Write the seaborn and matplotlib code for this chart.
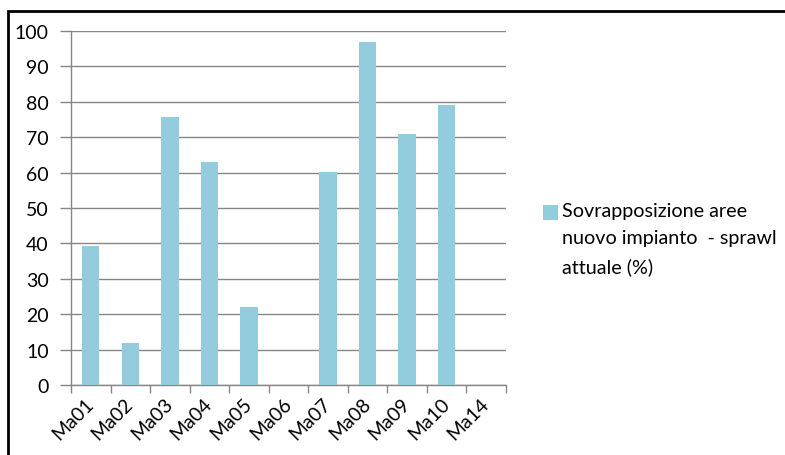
import matplotlib
matplotlib.use("Agg")
import matplotlib.pyplot as plt
from matplotlib.patches import Rectangle
from matplotlib.ticker import FixedLocator
import seaborn as sns
import pandas as pd
import numpy as np

categories = ["Ma01", "Ma02", "Ma03", "Ma04", "Ma05", "Ma06",
              "Ma07", "Ma08", "Ma09", "Ma10", "Ma14"]
overlap_pct = [39.3, 11.9, 75.7, 63.1, 21.9, 0.0,
               60.2, 97.0, 70.9, 79.1, 0.0]
series_label = "Sovrapposizione aree\nnuovo impianto  - sprawl\nattuale (%)"
y_ticks = [0, 10, 20, 30, 40, 50, 60, 70, 80, 90, 100]

bar_color = "#93CDDD"
grid_color = "#868686"

plt.rcParams["font.family"] = ["Lato", "DejaVu Sans"]

df = pd.DataFrame({"cat": categories, "val": overlap_pct})

fig = plt.figure(figsize=(7.85, 4.56), dpi=100)
W, H = 785, 456
ax = fig.add_axes([71 / W, 1 - 386 / H, (506 - 71) / W, (386 - 32) / H])

sns.barplot(data=df, x="cat", y="val", color=bar_color, saturation=1,
            width=0.44, ax=ax, zorder=3)

ax.set_ylim(0, 100)
ax.set_xlim(-0.5, len(categories) - 0.5)
ax.set_yticks(y_ticks)
ax.yaxis.grid(True, color=grid_color, linewidth=1.0, zorder=0)
ax.set_axisbelow(True)
ax.set_xlabel("")
ax.set_ylabel("")

for side in ("top", "right"):
    ax.spines[side].set_visible(False)
for side in ("left", "bottom"):
    ax.spines[side].set_color(grid_color)
    ax.spines[side].set_linewidth(1.0)

# category boundary ticks on the x axis, labels at category centres
ax.xaxis.set_major_locator(FixedLocator(np.arange(len(categories))))
ax.xaxis.set_minor_locator(FixedLocator(np.arange(len(categories) + 1) - 0.5))
ax.tick_params(axis="x", which="major", length=0, pad=11, labelsize=14)
ax.tick_params(axis="x", which="minor", length=6, color=grid_color, width=1)
ax.tick_params(axis="y", length=8, color=grid_color, width=1, pad=8, labelsize=14)
for lbl in ax.get_xticklabels():
    lbl.set_rotation(45)
    lbl.set_ha("right")
    lbl.set_va("center")
    lbl.set_rotation_mode("anchor")

# legend entry
fig.patches.append(Rectangle((543 / W, 1 - 221 / H), 15 / W, 15 / H,
                             transform=fig.transFigure, facecolor=bar_color,
                             edgecolor="none"))
fig.text(562 / W, 1 - 203 / H, series_label, ha="left", va="top",
         fontsize=14.2, linespacing=1.75, color="black")

# outer chart frame
fig.patches.append(Rectangle((8 / W, -0.05), 1.2, 1 - 12 / H + 0.05,
                             transform=fig.transFigure, facecolor="none",
                             edgecolor="black", linewidth=2, zorder=10))

fig.savefig("out.png", dpi=100)
